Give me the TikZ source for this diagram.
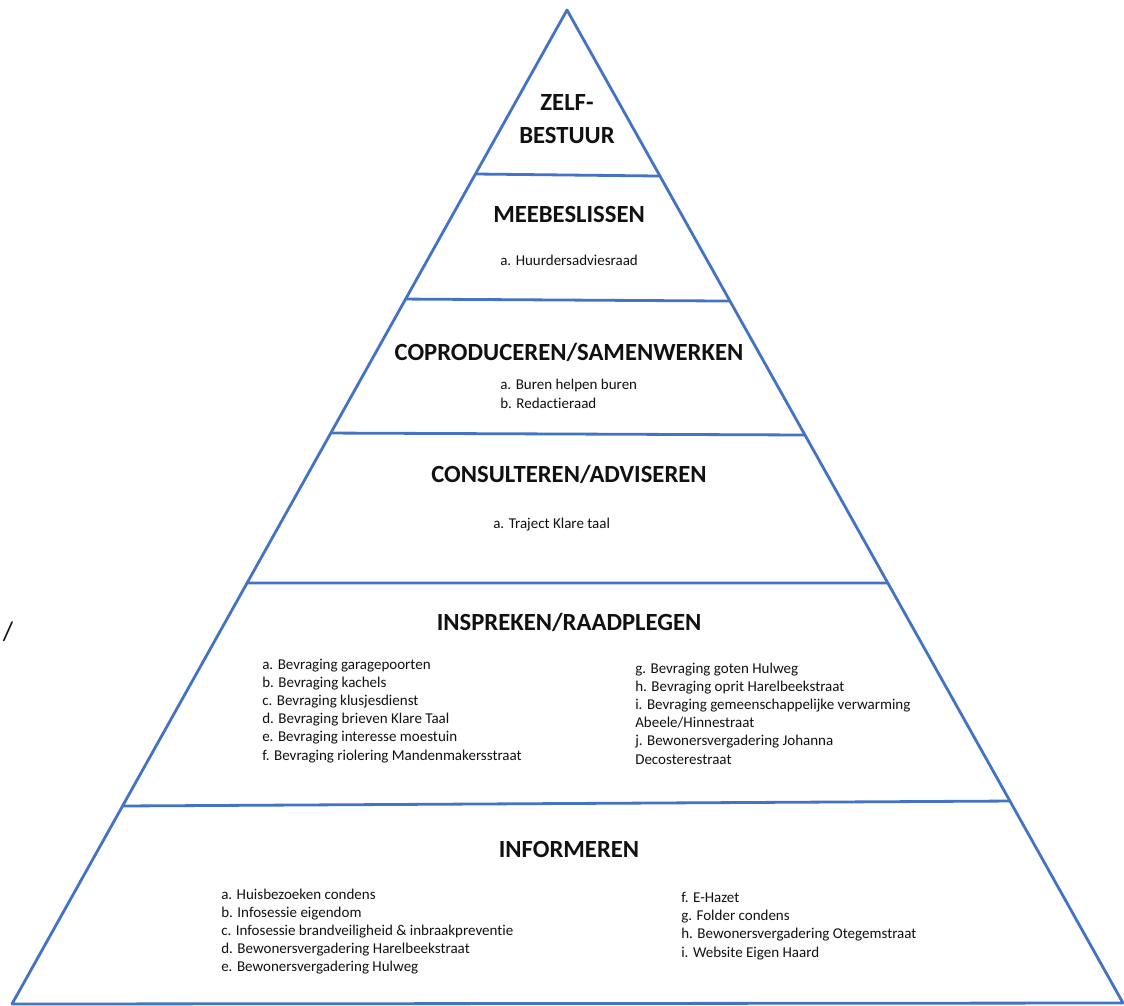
\documentclass[tikz,border=0pt]{standalone}
\usepackage{fontspec}
\setmainfont[Ligatures=CommonOff]{Carlito}
\usepackage{tikz}
\usetikzlibrary{calc}
\definecolor{pyrblue}{HTML}{4472C4}
\definecolor{ink}{HTML}{111111}
\tikzset{
  edge/.style={draw=pyrblue, line width=2.1pt, line cap=round, line join=round},
  level/.style={text=ink, font=\bfseries\fontsize{18.5}{24.5}\selectfont, align=center, inner sep=0pt},
  item/.style={text=ink, font=\fontsize{11.25}{13}\selectfont, anchor=base west, inner sep=0pt},
}

\begin{document}
\begin{tikzpicture}[x=0.75pt,y=-0.75pt]
  \useasboundingbox[fill=white] (0,0) rectangle (1124,1006);
  \coordinate (T) at (567,10);
  \coordinate (BL) at (12,1004);
  \coordinate (BR) at (1123,1003);
  \draw[edge] (T) -- (BL) -- (BR) -- cycle;
  % level lines, ends on the sides
  \foreach \n/\l/\r in {1/0.165/0.1672, 2/0.2908/0.2931, 3/0.4256/0.4280, 4/0.5765/0.5771, 5/0.8008/0.7966}{
    \coordinate (L\n) at ($(T)!\l!(BL)$);
    \coordinate (R\n) at ($(T)!\r!(BR)$);
    \draw[edge] (L\n) -- (R\n);
  }
  % titles
  \node[level] (zelf) at (567,119) {ZELF-\\BESTUUR};
  \node[level, anchor=base] (meebe) at (569,222) {MEEBESLISSEN};
  \node[level, anchor=base] (copro) at (569,360) {COPRODUCEREN/SAMENWERKEN};
  \node[level, anchor=base] (consu) at (569,482) {CONSULTEREN/ADVISEREN};
  \node[level, anchor=base] (inspr) at (569,630) {INSPREKEN/RAADPLEGEN};
  \node[level, anchor=base] (infor) at (569,857) {INFORMEREN};
  % items
  \node[item] (hra) at (500,265) {a. Huurdersadviesraad};
  \node[item] (bur) at (500,389) {a. Buren helpen buren};
  \node[item] (red) at (500,408) {b. Redactieraad};
  \node[item] (kla) at (493,528) {a. Traject Klare taal};
  \foreach \t [count=\i] in {a. Bevraging garagepoorten, b. Bevraging kachels,
      c. Bevraging klusjesdienst, d. Bevraging brieven Klare Taal,
      e. Bevraging interesse moestuin, f. Bevraging riolering Mandenmakersstraat}
    \node[item] (insl\i) at (262,669+18.2*\i-18.2) {\t};
  \foreach \t [count=\i] in {g. Bevraging goten Hulweg, h. Bevraging oprit Harelbeekstraat,
      i. Bevraging gemeenschappelijke verwarming, Abeele/Hinnestraat,
      j. Bewonersvergadering Johanna, Decosterestraat}
    \node[item] (insr\i) at (635,673+18.2*\i-18.2) {\t};
  \foreach \t [count=\i] in {a. Huisbezoeken condens, b. Infosessie eigendom,
      c. Infosessie brandveiligheid \& inbraakpreventie,
      d. Bewonersvergadering Harelbeekstraat, e. Bewonersvergadering Hulweg}
    \node[item] (infl\i) at (221,899+18.2*\i-18.2) {\t};
  \foreach \t [count=\i] in {f. E-Hazet, g. Folder condens,
      h. Bewonersvergadering Otegemstraat, i. Website Eigen Haard}
    \node[item] (infr\i) at (681,902+18.4*\i-18.4) {\t};
  \node[text=ink, font=\fontsize{20}{24}\selectfont, inner sep=0pt] (slash) at (8,632) {/};
\end{tikzpicture}
\end{document}
